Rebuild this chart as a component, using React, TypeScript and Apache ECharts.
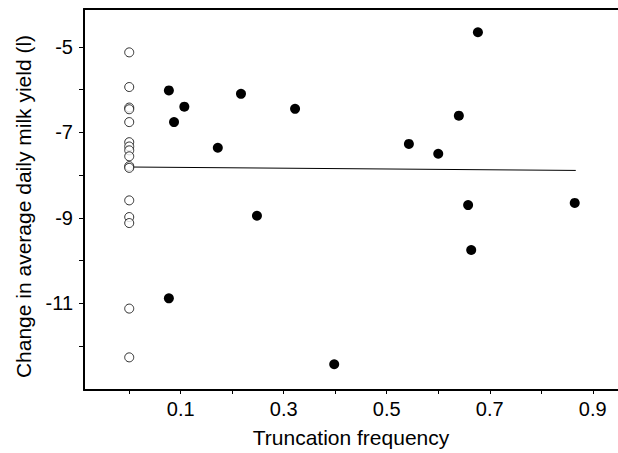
import React, { useEffect, useRef } from "react";
import * as echarts from "echarts";

// Open circles: cows with zero truncation frequency
const openY: number[] = [
  -5.13, -5.94, -6.42, -6.46, -6.76, -7.23, -7.33, -7.42, -7.56, -7.79, -7.83,
  -8.59, -8.98, -9.12, -11.12, -12.26,
];
const openX: number[] = openY.map(() => 0);

// Filled circles: truncated cows
const filledX: number[] = [
  0.077, 0.217, 0.107, 0.087, 0.172, 0.248, 0.077, 0.677, 0.322, 0.64, 0.543,
  0.6, 0.658, 0.865, 0.664, 0.398,
];
const filledY: number[] = [
  -6.02, -6.1, -6.4, -6.76, -7.36, -8.95, -10.88, -4.66, -6.45, -6.61, -7.27,
  -7.5, -8.7, -8.65, -9.75, -12.42,
];

// Regression line end points
const lineX: number[] = [0, 0.867];
const lineY: number[] = [-7.81, -7.89];

const xTicks: number[] = [0, 0.1, 0.2, 0.3, 0.4, 0.5, 0.6, 0.7, 0.8, 0.9];
const xLabels: number[] = [0.1, 0.3, 0.5, 0.7, 0.9];
const yTicks: number[] = [-5, -6, -7, -8, -9, -10, -11, -12];
const yLabels: number[] = [-5, -7, -9, -11];

export default function App() {
  const ref = useRef<HTMLDivElement>(null);
  useEffect(() => {
    if (!ref.current) return;
    const chart = echarts.init(ref.current, undefined, { renderer: "svg" });
    const font = "'Liberation Sans', Arial, Helvetica, sans-serif";
    chart.setOption({
      animation: false,
      backgroundColor: "#ffffff",
      grid: { left: 84, top: 9, right: 0, bottom: 61, containLabel: false },
      xAxis: [
        {
          type: "value",
          min: -0.0878,
          max: 0.949,
          name: "Truncation frequency",
          nameLocation: "middle",
          nameGap: 37,
          nameTextStyle: { fontFamily: font, fontSize: 21, color: "#000" },
          axisLine: { show: true, onZero: false, lineStyle: { color: "#000", width: 2 } },
          axisTick: {
            show: true,
            length: 4,
            customValues: xTicks,
            lineStyle: { color: "#000", width: 1 },
          },
          axisLabel: {
            customValues: xLabels,
            fontFamily: font,
            fontSize: 20,
            color: "#000",
            margin: 9,
            formatter: (v: number) => String(v),
          },
          splitLine: { show: false },
        },
        {
          type: "value",
          position: "top",
          min: -0.0878,
          max: 0.949,
          axisLine: { show: true, onZero: false, lineStyle: { color: "#000", width: 2 } },
          axisTick: { show: false },
          axisLabel: { show: false },
          splitLine: { show: false },
        },
      ],
      yAxis: {
        type: "value",
        min: -13.023,
        max: -4.116,
        name: "Change in average daily milk yield (l)",
        nameLocation: "middle",
        nameGap: 50,
        nameRotate: 90,
        nameTextStyle: {
          fontFamily: font,
          fontSize: 21,
          color: "#000",
          padding: [0, 14, 0, 0],
        },
        axisLine: { show: true, onZero: false, lineStyle: { color: "#000", width: 2 } },
        axisTick: {
          show: true,
          length: 5,
          customValues: yTicks,
          lineStyle: { color: "#000", width: 1 },
        },
        axisLabel: {
          customValues: yLabels,
          fontFamily: font,
          fontSize: 20,
          color: "#000",
          margin: 11,
          formatter: (v: number) => String(v),
        },
        splitLine: { show: false },
      },
      series: [
        {
          type: "line",
          data: lineX.map((x, i) => [x, lineY[i]]),
          symbol: "none",
          lineStyle: { color: "#000", width: 1 },
          z: 1,
        },
        {
          type: "scatter",
          data: openX.map((x, i) => [x, openY[i]]),
          symbol: "circle",
          symbolSize: 9,
          itemStyle: { color: "#fff", borderColor: "#000", borderWidth: 1 },
          z: 2,
        },
        {
          type: "scatter",
          data: filledX.map((x, i) => [x, filledY[i]]),
          symbol: "circle",
          symbolSize: 10,
          itemStyle: { color: "#000", opacity: 1 },
          z: 3,
        },
      ],
    });
    return () => chart.dispose();
  }, []);
  return (
    <div
      ref={ref}
      style={{ position: "fixed", left: 0, top: 0, width: 618, height: 453 }}
    />
  );
}
